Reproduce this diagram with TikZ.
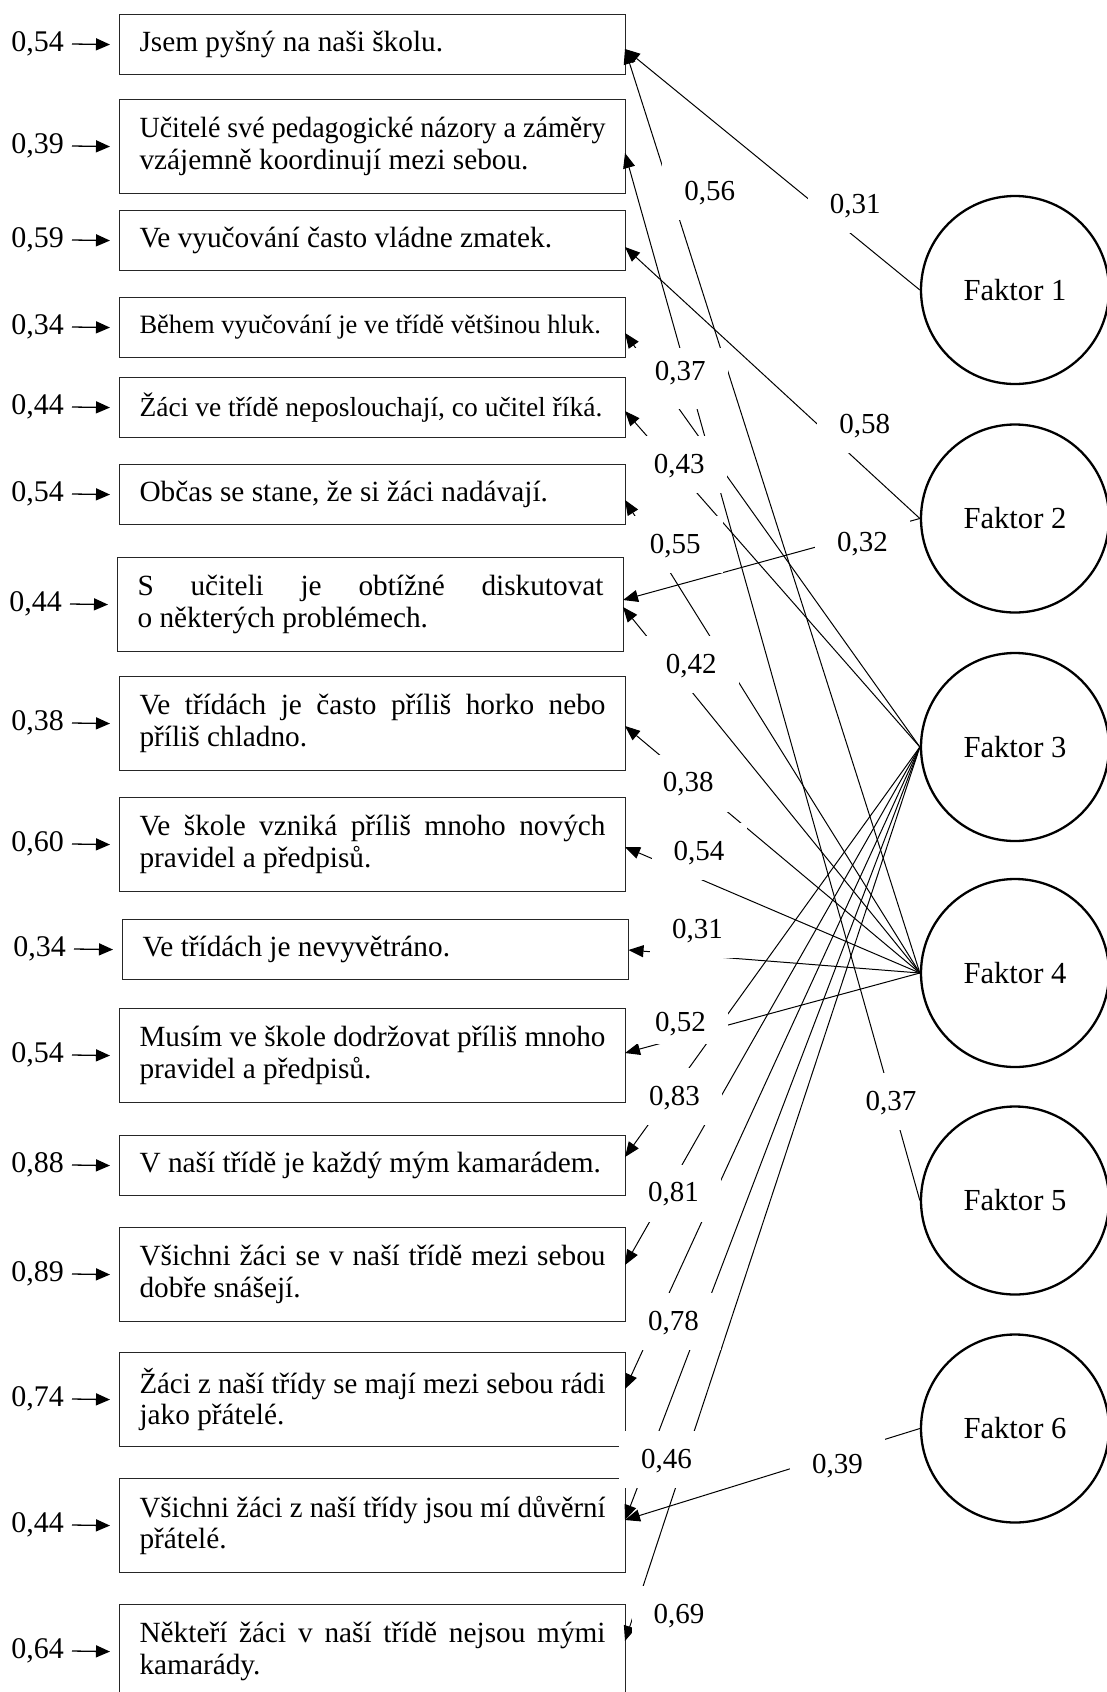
\documentclass[tikz,border=0pt]{standalone}
\usepackage{fontspec}
\usepackage{graphicx}
\setmainfont{Liberation Serif}
\usetikzlibrary{arrows.meta}
\newsavebox{\jlbox}
\newcommand{\jl}[1]{\sbox{\jlbox}{#1}\ifdim\wd\jlbox>466pt\relax\resizebox{466pt}{\ht\jlbox}{\usebox{\jlbox}}\else\makebox[466pt][s]{#1}\fi}
\begin{document}
\begin{tikzpicture}[x=1pt,y=-1pt,
  item/.style={draw=black!85, line width=1.1pt, rectangle, anchor=north west,
    text width=466pt, inner xsep=20pt, inner ysep=0pt, align=justify,
    execute at begin node={\spaceskip=0pt\xspaceskip=0pt\relax},
    font=\fontsize{29.3}{31.5}\selectfont},
  fak/.style={circle, draw, line width=2.3pt, minimum size=188pt, inner sep=0pt,
    font=\fontsize{30.6}{34}\selectfont},
  lab/.style={fill=white, inner sep=0pt, text height=20pt, text depth=3pt,
    minimum height=57pt, minimum width=95pt, anchor=base,
    font=\fontsize{29}{33}\selectfont},
  res/.style={inner sep=0pt, anchor=east, font=\fontsize{30}{34}\selectfont},
  resarr/.style={line width=1.3pt, -{Triangle[length=14pt,width=12pt]}},
  con/.style={line width=1pt, -{Triangle[length=15pt,width=12pt]}}
]
\useasboundingbox (0,0) rectangle (1107,1692);

% item boxes
\node[item, minimum height=60pt] (b1) at (119,14) {Jsem pyšný na naši školu.};
\node[item, minimum height=94pt] (b2) at (119,99) {\jl{Učitelé své pedagogické názory a záměry}\\vzájemně koordinují mezi sebou.};
\node[item, minimum height=60pt] (b3) at (119,210) {Ve vyučování často vládne zmatek.};
\node[item, minimum height=60pt, font=\fontsize{26.5}{30}\selectfont] (b4) at (119,297) {Během vyučování je ve třídě většinou hluk.};
\node[item, minimum height=60pt, font=\fontsize{27.5}{31}\selectfont] (b5) at (119,377) {Žáci ve třídě neposlouchají, co učitel říká.};
\node[item, minimum height=60pt] (b6) at (119,464) {Občas se stane, že si žáci nadávají.};
\node[item, minimum height=94pt] (b7) at (117,557) {\jl{S učiteli je obtížné diskutovat}\\o některých problémech.};
\node[item, minimum height=94pt] (b8) at (119,676) {\jl{Ve třídách je často příliš horko nebo}\\příliš chladno.};
\node[item, minimum height=94pt] (b9) at (119,797) {\jl{Ve škole vzniká příliš mnoho nových}\\pravidel a předpisů.};
\node[item, minimum height=60pt] (b10) at (122,919) {Ve třídách je nevyvětráno.};
\node[item, minimum height=94pt] (b11) at (119,1008) {\jl{Musím ve škole dodržovat příliš mnoho}\\pravidel a předpisů.};
\node[item, minimum height=60pt] (b12) at (119,1135) {V naší třídě je každý mým kamarádem.};
\node[item, minimum height=94pt] (b13) at (119,1227) {\jl{Všichni žáci se v naší třídě mezi sebou}\\dobře snášejí.};
\node[item, minimum height=94pt] (b14) at (119,1352) {\jl{Žáci z naší třídy se mají mezi sebou rádi}\\jako přátelé.};
\node[item, minimum height=94pt] (b15) at (119,1478) {\jl{Všichni žáci z naší třídy jsou mí důvěrní}\\přátelé.};
\node[item, minimum height=94pt] (b16) at (119,1604) {\jl{Někteří žáci v naší třídě nejsou mými}\\kamarády.};

% residual labels and arrows
\node[res] (r1) at (64,44) {0,54};
\node[res] (r2) at (64,146) {0,39};
\node[res] (r3) at (64,240) {0,59};
\node[res] (r4) at (64,327) {0,34};
\node[res] (r5) at (64,407) {0,44};
\node[res] (r6) at (64,494) {0,54};
\node[res] (r7) at (62,604) {0,44};
\node[res] (r8) at (64,723) {0,38};
\node[res] (r9) at (64,844) {0,60};
\node[res] (r10) at (66,949) {0,34};
\node[res] (r11) at (64,1055) {0,54};
\node[res] (r12) at (64,1165) {0,88};
\node[res] (r13) at (64,1274) {0,89};
\node[res] (r14) at (64,1399) {0,74};
\node[res] (r15) at (64,1525) {0,44};
\node[res] (r16) at (64,1651) {0,64};
\foreach \i in {1,...,16}{
  \draw[resarr] ([xshift=8pt]r\i.east) -- ([xshift=-9pt]b\i.west);
}

% factors
\node[fak] (f1) at (1015,290) {Faktor 1};
\node[fak] (f2) at (1015,518.5) {Faktor 2};
\node[fak] (f3) at (1015,747) {Faktor 3};
\node[fak] (f4) at (1015,973) {Faktor 4};
\node[fak] (f5) at (1015,1200.5) {Faktor 5};
\node[fak] (f6) at (1015,1428.5) {Faktor 6};

% arrow tips on the boxes
\coordinate (t1) at (625,49);
\coordinate (t2) at (625,153);
\coordinate (t3) at (625,247);
\coordinate (t4) at (625,333);
\coordinate (t5) at (625,411);
\coordinate (t6) at (625,500);
\coordinate (t7a) at (623,600);
\coordinate (t7b) at (623,607);
\coordinate (t8) at (625,726);
\coordinate (t9) at (625,847);
\coordinate (t10) at (628.5,950);
\coordinate (t11) at (625,1053);
\coordinate (t12) at (625,1157);
\coordinate (t13) at (625,1265);
\coordinate (t14) at (625,1389);
\coordinate (t15) at (625,1520);
\coordinate (t16) at (625,1641);

% connectors
\draw[con] (f1.west) -- (t1);
\draw[con] (f4.west) -- (t1);
\draw[con] (f5.west) -- (t2);
\draw[con] (f2.west) -- (t3);
\draw[con] (f3.west) -- (t4);
\draw[con] (f3.west) -- (t5);
\draw[con] (f4.west) -- (t6);
\draw[con] (f2.west) -- (t7a);
\draw[con] (f4.west) -- (t7b);
\draw[con] (f4.west) -- (t8);
\draw[con] (f4.west) -- (t9);
\draw[con] (f4.west) -- (t10);
\draw[con] (f4.west) -- (t11);
\draw[con] (f3.west) -- (t12);
\draw[con] (f3.west) -- (t13);
\draw[con] (f3.west) -- (t14);
\draw[con] (f3.west) -- (t15);
\draw[con] (f3.west) -- (t16);
\draw[con] (f6.west) -- (t15);

% loading labels (white boxes interrupt the lines)
\node[lab] (l1) at (709.7,200) {0,56};
\node[lab] (l2) at (855.2,213) {0,31};
\node[lab, text depth=17pt, minimum height=61pt] (l3) at (680.2,380) {0,37};
\node[lab] (l4) at (864.8,433) {0,58};
\node[lab] (l5) at (679.3,473) {0,43};
\node[lab] (l6) at (675.3,553.3) {0,55};
\node[lab] (l7) at (862.5,551.7) {0,32};
\node[lab] (l8) at (691.3,673.3) {0,42};
\node[lab] (l9) at (688.3,791.7) {0,38};
\node[lab] (l10) at (699.1,860) {0,54};
\node[lab] (l11) at (697.5,938) {0,31};
\node[lab, text height=25pt, text depth=0pt, minimum height=49pt] (l12) at (680.5,1031.7) {0,52};
\node[lab] (l13) at (674.4,1105) {0,83};
\node[lab] (l14) at (673.5,1201.7) {0,81};
\node[lab] (l15) at (891,1110) {0,37};
\node[lab] (l16) at (673.5,1330) {0,78};
\node[lab] (l17) at (666.4,1468.3) {0,46};
\node[lab] (l18) at (837.6,1473.3) {0,39};
\node[lab] (l19) at (679.1,1623.3) {0,69};
\end{tikzpicture}
\end{document}
